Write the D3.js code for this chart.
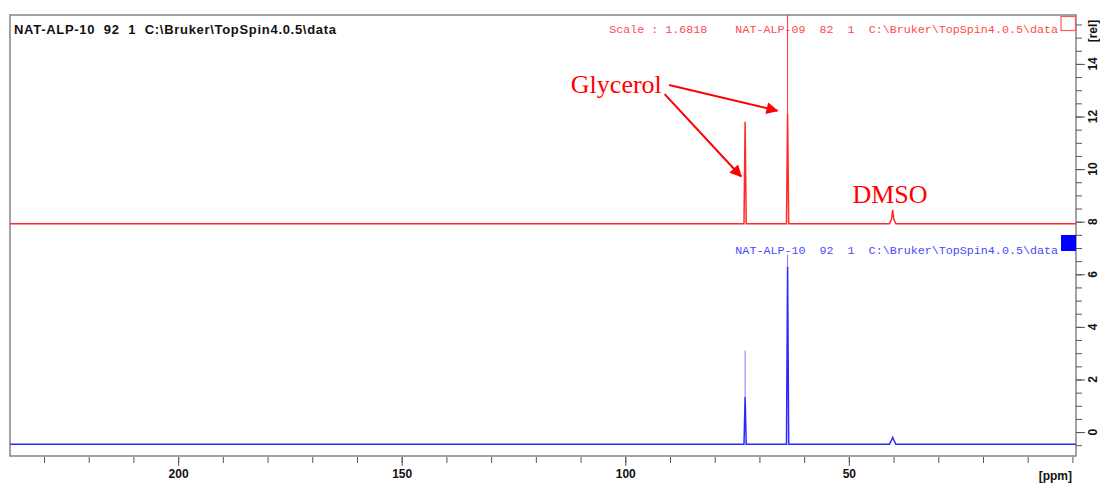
<!DOCTYPE html>
<html>
<head>
<meta charset="utf-8">
<script src="https://cdn.jsdelivr.net/npm/d3@7"></script>
<style>
  body { margin: 0; background: #fff; }
  svg text { white-space: pre; }
</style>
</head>
<body>
<div id="chart"></div>
<script>
// NMR overlay: NAT-ALP-09 (red, scaled) over NAT-ALP-10 (blue)

// spectra as [ppm, intensity] points
var redSpectrum = [
  [237.6, 7.92], [73.45, 7.92], [73.2, 11.8], [72.95, 7.92],
  [63.95, 7.92], [63.7, 12.1], [63.45, 7.92],
  [40.9, 7.92], [40.45, 8.1], [40.2, 8.45], [39.95, 8.1], [39.5, 7.92],
  [-0.8, 7.92]
];
var blueSpectrum = [
  [237.6, -0.46], [73.45, -0.46], [73.2, 1.33], [72.95, -0.46],
  [63.95, -0.46], [63.7, 6.3], [63.45, -0.46],
  [40.9, -0.46], [40.45, -0.3], [40.2, -0.2], [39.95, -0.3], [39.5, -0.46],
  [-0.8, -0.46]
];
// thin upper parts of the peaks: [ppm, from, to]
var redThin = [[63.7, 12.1, 15.9]];
var blueThin = [[73.2, 1.33, 3.1], [63.7, 6.3, 6.75]];

var xTicksMajor = [200, 150, 100, 50];
var xTicksMinor = [230, 220, 210, 200, 190, 180, 170, 160, 150, 140, 130, 120, 110, 100, 90, 80, 70, 60, 50, 40, 30, 20, 10, 0];
var yTicksMajor = [0, 2, 4, 6, 8, 10, 12, 14];

var titleText = "NAT-ALP-10  92  1  C:\\Bruker\\TopSpin4.0.5\\data";
var redLabel = "Scale : 1.6818    NAT-ALP-09  82  1  C:\\Bruker\\TopSpin4.0.5\\data";
var blueLabel = "NAT-ALP-10  92  1  C:\\Bruker\\TopSpin4.0.5\\data";

var width = 1100, height = 484;
// frame edges (avoid the name "top", it is window.top)
var fLeft = 10, fRight = 1076, fTop = 15, fBottom = 456;

var svg = d3.select("#chart").append("svg")
    .attr("width", width)
    .attr("height", height);

var x = d3.scaleLinear().domain([237.6, -0.8]).range([fLeft, fRight]);
var y = d3.scaleLinear().domain([-0.91, 15.86]).range([fBottom, fTop]);

var defs = svg.append("defs");
defs.append("marker")
    .attr("id", "arrow")
    .attr("viewBox", "0 0 10 10")
    .attr("refX", 9).attr("refY", 5)
    .attr("markerWidth", 7.5).attr("markerHeight", 6)
    .attr("markerUnits", "strokeWidth")
    .attr("orient", "auto")
    .append("path")
    .attr("d", "M0,0 L10,5 L0,10 z")
    .attr("fill", "#ff0000");

defs.append("clipPath").attr("id", "plot")
    .append("rect").attr("x", fLeft).attr("y", fTop)
    .attr("width", fRight - fLeft).attr("height", fBottom - fTop);

// frame
svg.append("rect")
    .attr("x", fLeft).attr("y", fTop)
    .attr("width", fRight - fLeft).attr("height", fBottom - fTop)
    .attr("fill", "none")
    .attr("stroke", "#8c8c8c")
    .attr("stroke-width", 1.6);

var plot = svg.append("g").attr("clip-path", "url(#plot)");

var line = d3.line()
    .x(function (d) { return x(d[0]); })
    .y(function (d) { return y(d[1]); });

plot.append("path").datum(redSpectrum)
    .attr("d", line).attr("fill", "none")
    .attr("stroke", "#ff2a2a").attr("stroke-width", 1.5);

plot.append("path").datum(blueSpectrum)
    .attr("d", line).attr("fill", "none")
    .attr("stroke", "#2a2aff").attr("stroke-width", 1.5);

plot.selectAll(".red-thin").data(redThin).enter().append("line")
    .attr("x1", function (d) { return x(d[0]); })
    .attr("x2", function (d) { return x(d[0]); })
    .attr("y1", function (d) { return y(d[1]); })
    .attr("y2", function (d) { return y(d[2]); })
    .attr("stroke", "#ff3030").attr("stroke-width", 1);

plot.selectAll(".blue-thin").data(blueThin).enter().append("line")
    .attr("x1", function (d) { return x(d[0]); })
    .attr("x2", function (d) { return x(d[0]); })
    .attr("y1", function (d) { return y(d[1]); })
    .attr("y2", function (d) { return y(d[2]); })
    .attr("stroke", "#7c7cff").attr("stroke-width", 1);

// x axis below the frame
var xAxisMinor = d3.axisBottom(x).tickValues(xTicksMinor).tickSize(6).tickFormat("");
var xAxisMajor = d3.axisBottom(x).tickValues(xTicksMajor).tickSize(9).tickPadding(3);

var gxm = svg.append("g").attr("transform", "translate(0," + (fBottom + 1) + ")").call(xAxisMinor);
var gx = svg.append("g").attr("transform", "translate(0," + (fBottom + 1) + ")").call(xAxisMajor);
[gxm, gx].forEach(function (g) {
  g.select(".domain").remove();
  g.selectAll("line").attr("stroke", "#555");
});
gx.selectAll("text")
    .attr("font-family", "Liberation Sans, Arial, sans-serif")
    .attr("font-weight", "bold")
    .attr("font-size", 12)
    .attr("fill", "#111");

svg.append("text")
    .attr("x", 1072).attr("y", 480)
    .attr("text-anchor", "end")
    .attr("font-family", "Liberation Sans, Arial, sans-serif")
    .attr("font-weight", "bold").attr("font-size", 12)
    .attr("fill", "#111")
    .text("[ppm]");

// y axis on the right
var yMinor = d3.range(-0.5, 15.51, 0.5);
var yAxisMinor = d3.axisRight(y).tickValues(yMinor).tickSize(6).tickFormat("");
var yAxisMajor = d3.axisRight(y).tickValues(yTicksMajor).tickSize(9).tickFormat("");
var gym = svg.append("g").attr("transform", "translate(" + fRight + ",0)").call(yAxisMinor);
var gy = svg.append("g").attr("transform", "translate(" + fRight + ",0)").call(yAxisMajor);
[gym, gy].forEach(function (g) {
  g.select(".domain").remove();
  g.selectAll("line").attr("stroke", "#555");
});

svg.selectAll(".ylab").data(yTicksMajor).enter().append("text")
    .attr("class", "ylab")
    .attr("transform", function (d) { return "translate(1097," + y(d) + ") rotate(-90)"; })
    .attr("text-anchor", "middle")
    .attr("font-family", "Liberation Sans, Arial, sans-serif")
    .attr("font-weight", "bold").attr("font-size", 12)
    .attr("fill", "#111")
    .text(function (d) { return d; });

svg.append("text")
    .attr("transform", "translate(1097," + 31 + ") rotate(-90)")
    .attr("text-anchor", "middle")
    .attr("font-family", "Liberation Sans, Arial, sans-serif")
    .attr("font-weight", "bold").attr("font-size", 12)
    .attr("fill", "#111")
    .text("[rel]");

// header texts
svg.append("text")
    .attr("x", 14).attr("y", 34)
    .attr("font-family", "Liberation Sans, Arial, sans-serif")
    .attr("font-weight", "bold").attr("font-size", 13)
    .attr("textLength", 322).attr("lengthAdjust", "spacing")
    .attr("fill", "#111")
    .text(titleText);

svg.append("text")
    .attr("x", 1058).attr("y", 33)
    .attr("text-anchor", "end")
    .attr("font-family", "Liberation Mono, Courier New, monospace")
    .attr("font-size", 11.7)
    .attr("fill", "#ff4a4a")
    .text(redLabel);

svg.append("rect")
    .attr("x", 1061).attr("y", 16.5).attr("width", 14.5).attr("height", 14)
    .attr("fill", "#fff").attr("stroke", "#ff5a5a").attr("stroke-width", 1.2);

svg.append("text")
    .attr("x", 1058).attr("y", 254)
    .attr("text-anchor", "end")
    .attr("font-family", "Liberation Mono, Courier New, monospace")
    .attr("font-size", 11.7)
    .attr("fill", "#4a4aff")
    .text(blueLabel);

svg.append("rect")
    .attr("x", 1061).attr("y", 235).attr("width", 15).attr("height", 16)
    .attr("fill", "#0000ff");

// annotations
var serif = "Liberation Serif, Times New Roman, serif";
svg.append("text")
    .attr("x", x(102.0)).attr("y", y(12.9))
    .attr("text-anchor", "middle")
    .attr("font-family", serif).attr("font-size", 26)
    .attr("fill", "#ff0000")
    .text("Glycerol");

svg.append("text")
    .attr("x", x(40.8)).attr("y", y(8.72))
    .attr("text-anchor", "middle")
    .attr("font-family", serif).attr("font-size", 26)
    .attr("fill", "#ff0000")
    .text("DMSO");

var arrows = [
  [[90.2, 13.2], [66.0, 12.22]],
  [[91.2, 12.85], [74.1, 9.72]]
];
svg.selectAll(".arrow").data(arrows).enter().append("line")
    .attr("x1", function (d) { return x(d[0][0]); })
    .attr("y1", function (d) { return y(d[0][1]); })
    .attr("x2", function (d) { return x(d[1][0]); })
    .attr("y2", function (d) { return y(d[1][1]); })
    .attr("stroke", "#ff0000").attr("stroke-width", 2)
    .attr("marker-end", "url(#arrow)");
</script>
</body>
</html>
